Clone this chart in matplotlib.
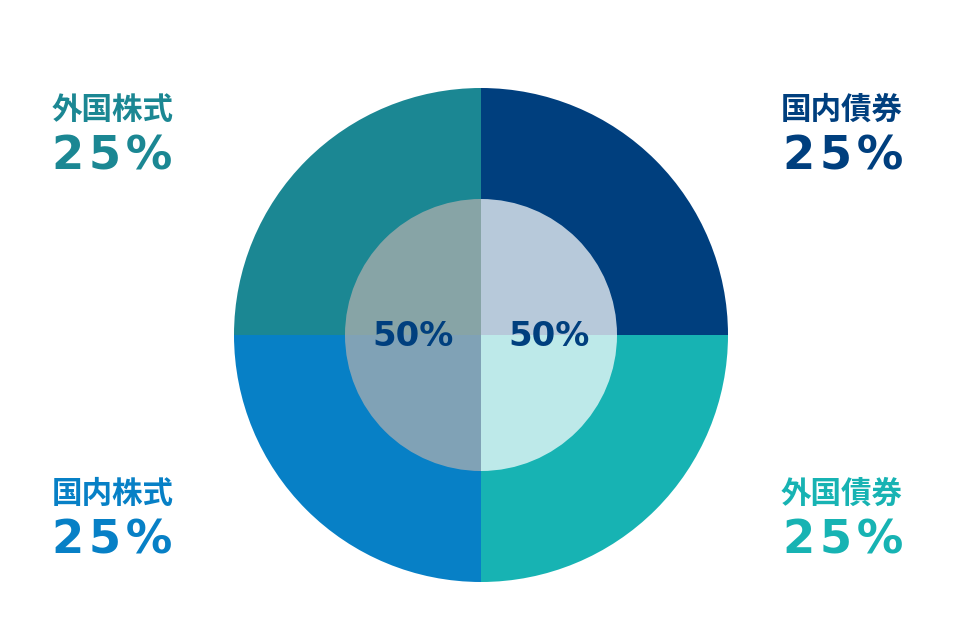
import matplotlib.pyplot as plt

plt.rcParams['font.family'] = ['Noto Sans CJK JP', 'DejaVu Sans']

# outer ring: asset classes (clockwise from 12 o'clock)
categories = ['国内債券', '外国債券', '国内株式', '外国株式']
shares = [25, 25, 25, 25]
colors = ['#003f7e', '#17b3b3', '#0780c6', '#1b8793']

# inner ring: bonds / stocks
inner_shares = [50, 50]

W, H = 954, 619
cx, cy, R = 481, 335, 247
HS = '\u200a'  # hair space for a bit of letter spacing

fig = plt.figure(figsize=(W / 100, H / 100), dpi=100)
ax = fig.add_axes([0, 0, 1, 1])

ax.pie(shares, colors=colors, startangle=90, counterclock=False, radius=1,
       wedgeprops=dict(linewidth=0))

wedges, texts, autotexts = ax.pie(inner_shares, startangle=90, counterclock=False,
                                  radius=136 / R, colors=['white', '#b8b2b0'],
                                  autopct=lambda p: '%d%%' % round(p), pctdistance=0.5,
                                  wedgeprops=dict(linewidth=0))
wedges[0].set_alpha(0.72)
wedges[1].set_alpha(0.69)
for t in autotexts:
    t.set_color('#003f7e')
    t.set_fontsize(24.5)
    t.set_fontweight('bold')
    t.set_family('DejaVu Sans')
    t.set_verticalalignment('baseline')
    t.set_y((cy - 346) / R)

# pie() resets the limits, so set them afterwards
ax.set_xlim(-cx / R, (W - cx) / R)
ax.set_ylim(-(H - cy) / R, cy / R)
ax.set_aspect('equal')
ax.axis('off')

# corner labels
pos = {
    '国内債券': ((903 - cx) / R, 'right', (cy - 110) / R, (cy - 169) / R),
    '外国債券': ((903 - cx) / R, 'right', (cy - 494) / R, (cy - 553) / R),
    '国内株式': ((52 - cx) / R, 'left', (cy - 494) / R, (cy - 553) / R),
    '外国株式': ((52 - cx) / R, 'left', (cy - 110) / R, (cy - 169) / R),
}
for name, val, c in zip(categories, shares, colors):
    x, ha, y1, y2 = pos[name]
    ax.text(x, y1, name, ha=ha, va='center', fontsize=22, fontweight='bold', color=c)
    ax.text(x, y2, HS.join('%d%%' % val), ha=ha, va='baseline', fontsize=33.5,
            fontweight='bold', color=c, family='DejaVu Sans')

fig.savefig('out.png', dpi=100)
